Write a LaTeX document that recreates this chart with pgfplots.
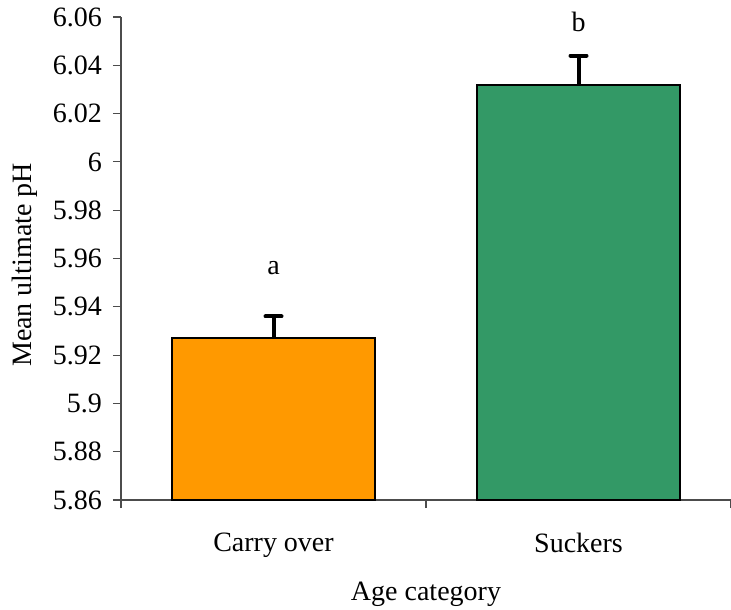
\documentclass[border=0pt]{standalone}
\usepackage{pgfplots}
\pgfplotsset{compat=1.18}
\usepackage{fontspec}
\setmainfont{Liberation Serif}
\definecolor{barorange}{HTML}{FF9900}
\definecolor{bargreen}{HTML}{339966}
\begin{document}
\begin{tikzpicture}
\useasboundingbox (-60.5pt,-54.5pt) rectangle (305pt,250pt);
\begin{axis}[
  scale only axis,
  width=305pt, height=241.5pt,
  at={(0,0)}, anchor=south west,
  font=\fontsize{14}{16}\selectfont,
  /pgf/number format/assume math mode=true,
  xmin=-0.5, xmax=1.5,
  ymin=5.86, ymax=6.06,
  ytick distance=0.02,
  yticklabel style={/pgf/number format/precision=2, xshift=-2pt},
  xtick={-0.5,0.5,1.5},
  xticklabels={},
  extra x ticks={0,1},
  extra x tick labels={Carry over,Suckers},
  extra x tick style={major tick length=0pt, tick label style={yshift=-13pt}},
  axis lines=left,
  axis line style={-, black!70, line width=0.6pt},
  tick style={black!70, line width=0.6pt},
  tick align=outside,
  major tick length=4pt,
  ylabel={Mean ultimate pH},
  xlabel={Age category},
  every axis y label/.append style={at={(-48pt,117.5pt)}, anchor=center},
  every axis x label/.append style={at={(152.5pt,-47pt)}, anchor=center},
  clip=false,
]
\addplot[ybar, bar width=0.665, fill=barorange, draw=black, line width=1pt,
  error bars/.cd, y dir=plus, y explicit,
  error bar style={line width=2pt, black},
  error mark options={line width=2pt, line cap=round, mark size=4pt, rotate=90}]
  coordinates {(0,5.927) +- (0,0.009)};
\addplot[ybar, bar width=0.665, fill=bargreen, draw=black, line width=1pt,
  error bars/.cd, y dir=plus, y explicit,
  error bar style={line width=2pt, black},
  error mark options={line width=2pt, line cap=round, mark size=4pt, rotate=90}]
  coordinates {(1,6.032) +- (0,0.012)};
\node at (axis cs:0,5.956) {a};
\node at (axis cs:1,6.058) {b};
\end{axis}
\end{tikzpicture}
\end{document}
